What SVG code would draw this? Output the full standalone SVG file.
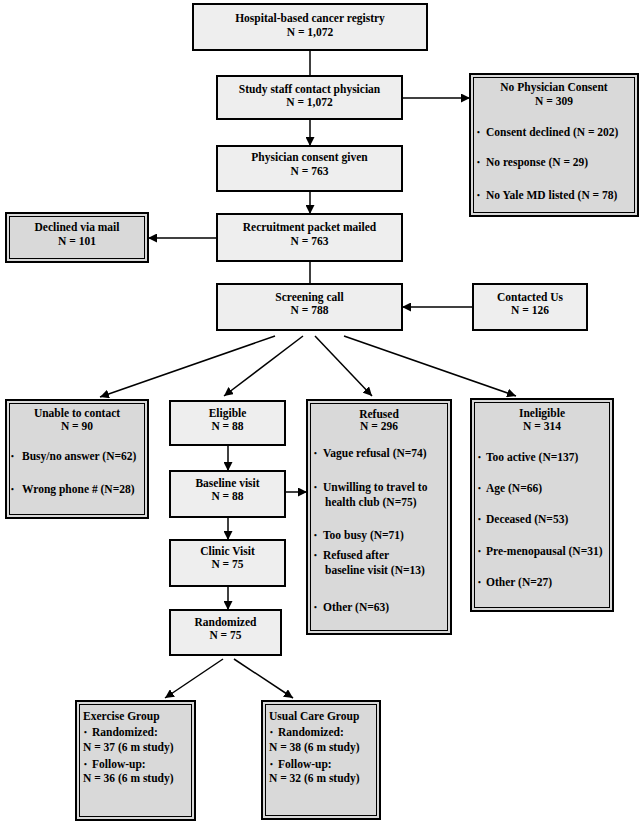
<svg xmlns="http://www.w3.org/2000/svg" width="642" height="826" viewBox="0 0 642 826">
<style>
text{font-family:"Liberation Serif","Times New Roman",serif;font-weight:bold;font-size:11.5px;fill:#000}
.c{text-anchor:middle}
.b{font-size:8px}
.light{fill:#eeeeee;stroke:#000;stroke-width:2}
.dark{fill:#d9d9d9;stroke:#000;stroke-width:2}
.inner{fill:none;stroke:#000;stroke-width:1}
.ln{stroke:#000;stroke-width:1.5;fill:none}
.ar{marker-end:url(#ah)}
</style>
<defs>
<marker id="ah" markerUnits="userSpaceOnUse" markerWidth="10" markerHeight="9" refX="9" refY="4.5" orient="auto">
<path d="M0,0 L9,4.5 L0,9 z" fill="#000"/>
</marker>
</defs>
<g id="connectors">
<line class="ln" x1="310" y1="50" x2="310" y2="76"/>
<line class="ln ar" x1="310" y1="119" x2="310" y2="146"/>
<line class="ln ar" x1="402" y1="98" x2="470" y2="98"/>
<line class="ln ar" x1="310" y1="191" x2="310" y2="214"/>
<line class="ln ar" x1="217" y1="238" x2="148" y2="238"/>
<line class="ln" x1="310" y1="261" x2="310" y2="284"/>
<line class="ln ar" x1="473" y1="307" x2="402" y2="307"/>
<line class="ln ar" x1="275" y1="336" x2="100" y2="397"/>
<line class="ln ar" x1="303" y1="336" x2="224" y2="396"/>
<line class="ln ar" x1="315" y1="336" x2="372" y2="396"/>
<line class="ln ar" x1="344" y1="336" x2="516" y2="396"/>
<line class="ln ar" x1="228" y1="445" x2="228" y2="471"/>
<line class="ln ar" x1="285" y1="492" x2="307" y2="492"/>
<line class="ln ar" x1="228" y1="517" x2="228" y2="540"/>
<line class="ln ar" x1="228" y1="586" x2="228" y2="610"/>
<line class="ln ar" x1="223" y1="659" x2="165" y2="698"/>
<line class="ln ar" x1="234" y1="659" x2="293" y2="698"/>
</g>
<g id="hospital">
<rect class="light" x="193" y="4" width="234" height="46"/>
<text class="c" x="310" y="22">Hospital-based cancer registry</text>
<text class="c" x="310" y="36">N = 1,072</text>
</g>
<g id="study">
<rect class="light" x="217" y="76" width="185" height="43"/>
<text class="c" x="309.5" y="93">Study staff contact physician</text>
<text class="c" x="309.5" y="106">N = 1,072</text>
</g>
<g id="nophysician">
<rect class="dark" x="470" y="74" width="168" height="142"/>
<rect class="inner" x="473.5" y="77.5" width="161" height="135"/>
<text class="c" x="554" y="91">No Physician Consent</text>
<text class="c" x="554" y="105">N = 309</text>
<text class="b" x="477" y="135">•</text><text x="486" y="136">Consent declined  (N = 202)</text>
<text class="b" x="477" y="165">•</text><text x="486" y="166">No response (N = 29)</text>
<text class="b" x="477" y="198">•</text><text x="486" y="199">No Yale MD listed (N = 78)</text>
</g>
<g id="physician">
<rect class="light" x="217" y="146" width="185" height="45"/>
<text class="c" x="309.5" y="161">Physician consent given</text>
<text class="c" x="309.5" y="175">N = 763</text>
</g>
<g id="recruitment">
<rect class="light" x="217" y="214" width="185" height="47"/>
<text class="c" x="309.5" y="231">Recruitment packet mailed</text>
<text class="c" x="309.5" y="245">N = 763</text>
</g>
<g id="declined">
<rect class="dark" x="6" y="213" width="142" height="49"/>
<rect class="inner" x="9.5" y="216.5" width="135" height="42"/>
<text class="c" x="77" y="231">Declined via mail</text>
<text class="c" x="77" y="245">N = 101</text>
</g>
<g id="screening">
<rect class="light" x="217" y="284" width="185" height="46"/>
<text class="c" x="309.5" y="301">Screening call</text>
<text class="c" x="309.5" y="314">N = 788</text>
</g>
<g id="contacted">
<rect class="light" x="473" y="284" width="114" height="46"/>
<text class="c" x="530" y="301">Contacted Us</text>
<text class="c" x="530" y="314">N = 126</text>
</g>
<g id="unable">
<rect class="dark" x="6" y="400" width="142" height="118"/>
<rect class="inner" x="9.5" y="403.5" width="135" height="111"/>
<text class="c" x="77" y="417">Unable to contact</text>
<text class="c" x="77" y="430">N = 90</text>
<text class="b" x="11" y="459">•</text><text x="22" y="460">Busy/no answer (N=62)</text>
<text class="b" x="11" y="492">•</text><text x="22" y="493">Wrong phone # (N=28)</text>
</g>
<g id="eligible">
<rect class="light" x="170" y="401" width="115" height="44"/>
<text class="c" x="227.5" y="417">Eligible</text>
<text class="c" x="227.5" y="430">N = 88</text>
</g>
<g id="baseline">
<rect class="light" x="170" y="471" width="115" height="46"/>
<text class="c" x="227.5" y="487">Baseline visit</text>
<text class="c" x="227.5" y="500">N = 88</text>
</g>
<g id="clinic">
<rect class="light" x="170" y="540" width="115" height="46"/>
<text class="c" x="227.5" y="555">Clinic Visit</text>
<text class="c" x="227.5" y="568">N = 75</text>
</g>
<g id="randomized">
<rect class="light" x="170" y="610" width="111" height="45"/>
<text class="c" x="225.5" y="626">Randomized</text>
<text class="c" x="225.5" y="639">N = 75</text>
</g>
<g id="refused">
<rect class="dark" x="307" y="400" width="144" height="234"/>
<rect class="inner" x="310.5" y="403.5" width="137" height="227"/>
<text class="c" x="379" y="418">Refused</text>
<text class="c" x="379" y="430">N = 296</text>
<text class="b" x="314" y="456">•</text><text x="323" y="457">Vague refusal (N=74)</text>
<text class="b" x="314" y="490">•</text><text x="323" y="491">Unwilling to travel to</text>
<text x="325" y="506">health club (N=75)</text>
<text class="b" x="314" y="538">•</text><text x="323" y="539">Too busy (N=71)</text>
<text class="b" x="314" y="558">•</text><text x="323" y="559">Refused after</text>
<text x="325" y="574">baseline visit (N=13)</text>
<text class="b" x="314" y="610">•</text><text x="323" y="611">Other (N=63)</text>
</g>
<g id="ineligible">
<rect class="dark" x="471" y="399" width="142" height="212"/>
<rect class="inner" x="474.5" y="402.5" width="135" height="205"/>
<text class="c" x="542" y="417">Ineligible</text>
<text class="c" x="542" y="430">N = 314</text>
<text class="b" x="478" y="460">•</text><text x="486" y="461">Too active (N=137)</text>
<text class="b" x="478" y="491">•</text><text x="486" y="492">Age (N=66)</text>
<text class="b" x="478" y="522">•</text><text x="486" y="523">Deceased (N=53)</text>
<text class="b" x="478" y="554">•</text><text x="486" y="555">Pre-menopausal (N=31)</text>
<text class="b" x="478" y="585">•</text><text x="486" y="586">Other (N=27)</text>
</g>
<g id="exercise">
<rect class="dark" x="76" y="701" width="119" height="119"/>
<rect class="inner" x="79.5" y="704.5" width="112" height="112"/>
<text x="83" y="720">Exercise Group</text>
<text class="b" x="84" y="735">•</text><text x="92" y="736">Randomized:</text>
<text x="83" y="751">N = 37 (6 m study)</text>
<text class="b" x="84" y="767">•</text><text x="92" y="768">Follow-up:</text>
<text x="83" y="782">N = 36 (6 m study)</text>
</g>
<g id="usualcare">
<rect class="dark" x="262" y="701" width="118" height="118"/>
<rect class="inner" x="265.5" y="704.5" width="111" height="111"/>
<text x="269" y="720">Usual Care Group</text>
<text class="b" x="270" y="735">•</text><text x="278" y="736">Randomized:</text>
<text x="269" y="751">N = 38 (6 m study)</text>
<text class="b" x="270" y="767">•</text><text x="278" y="768">Follow-up:</text>
<text x="269" y="782">N = 32 (6 m study)</text>
</g>
</svg>
